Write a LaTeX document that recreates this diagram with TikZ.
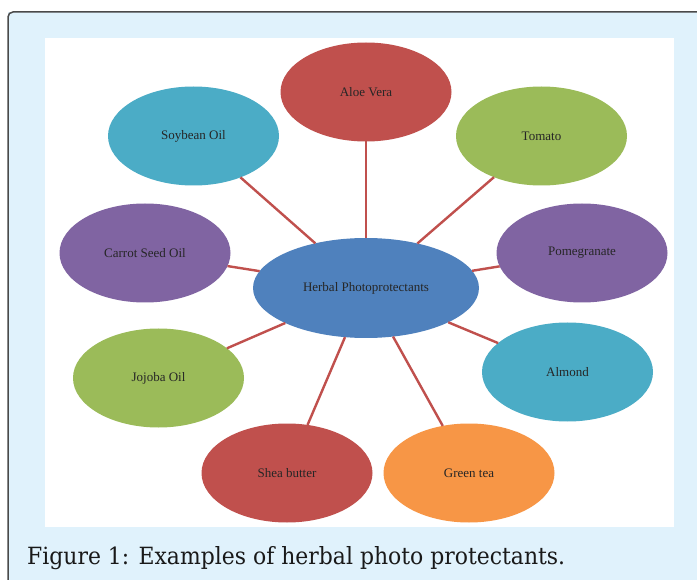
\documentclass[tikz,border=0pt]{standalone}
\usepackage{fontspec}
\setmainfont{Liberation Serif}
\newfontfamily\capfont{DejaVu Serif}
\usetikzlibrary{shapes.geometric}
\definecolor{ored}{HTML}{C0504D}
\definecolor{ogreen}{HTML}{9BBB59}
\definecolor{opurple}{HTML}{8064A2}
\definecolor{oaqua}{HTML}{4BACC6}
\definecolor{oorange}{HTML}{F79646}
\definecolor{oblue}{HTML}{4F81BD}
\definecolor{bgblue}{HTML}{E0F2FC}
\definecolor{framegray}{HTML}{4A4A4A}
\definecolor{spokecol}{HTML}{C0504D}
\tikzset{
  leaf/.style={ellipse, minimum width=171pt, minimum height=99pt, inner sep=0pt, outer sep=0pt,
    text=black!85, font=\fontsize{13}{15}\selectfont},
  hub/.style={ellipse, fill=oblue, minimum width=226pt, minimum height=100pt, inner sep=0pt, outer sep=0pt,
    text=black!85, font=\fontsize{13}{15}\selectfont},
  spoke/.style={draw=spokecol, line width=2.4pt}
}
\begin{document}
\begin{tikzpicture}[x=1pt,y=-1pt]
\useasboundingbox (0,0) rectangle (697,580);
\fill[bgblue] (8,12) rectangle (697,580);
\draw[framegray, line width=1.5pt, rounded corners=5pt] (8,581) -- (8,12) -- (698,12);
\fill[white] (45,38) rectangle (674,527);
\node[hub] (hub) at (366,288) {Herbal Photoprotectants};
\node[leaf, fill=ored] (aloe) at (366,92) {Aloe Vera};
\node[leaf, fill=oaqua] (soy) at (193.5,136) {Soybean Oil};
\node[leaf, fill=ogreen] (tom) at (541.5,136) {Tomato};
\node[leaf, fill=opurple] (carrot) at (145,253) {Carrot Seed Oil};
\node[leaf, fill=opurple] (pome) at (582,253) {Pomegranate};
\node[leaf, fill=ogreen] (jojoba) at (158.5,378) {Jojoba Oil};
\node[leaf, fill=oaqua] (almond) at (567.5,372) {Almond};
\node[leaf, fill=ored] (shea) at (287,473) {Shea butter};
\node[leaf, fill=oorange] (green) at (469,473) {Green tea};
\foreach \n in {aloe,soy,tom,carrot,pome,jojoba,almond,shea,green}
  \draw[spoke] (hub) -- (\n);
\node[anchor=base west, inner sep=0pt, text=black!90] (cap) at (27,564)
  {\resizebox{538pt}{18pt}{\capfont\fontsize{25}{30}\selectfont Figure 1: Examples of herbal photo protectants.}};
\end{tikzpicture}
\end{document}
